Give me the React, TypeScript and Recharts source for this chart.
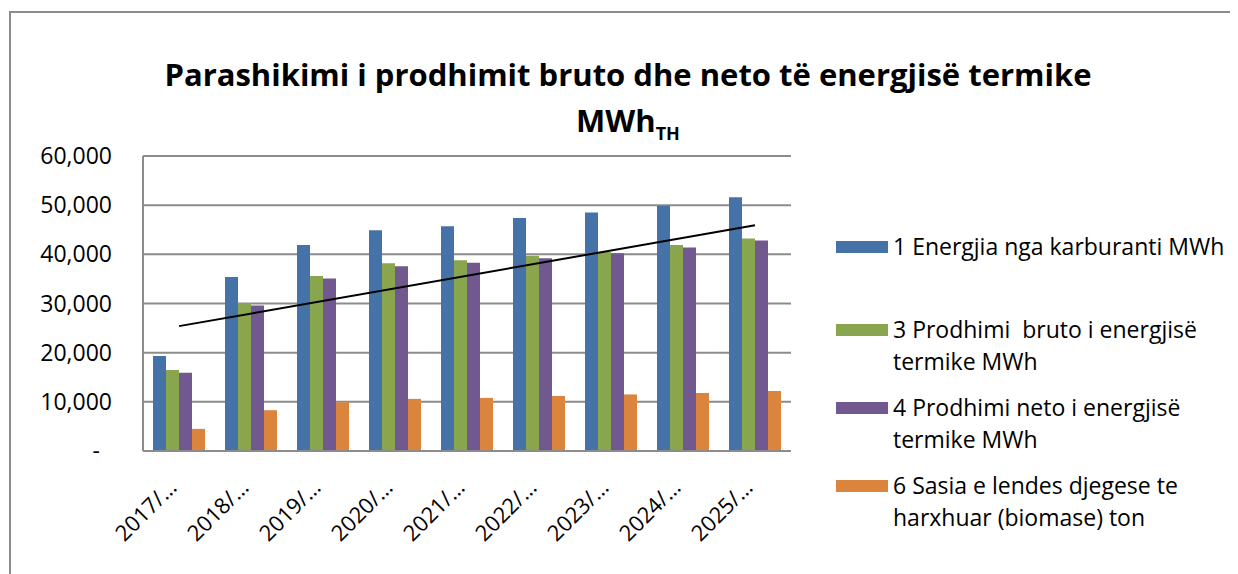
import React from 'react';
import { ComposedChart, Bar, Line, XAxis, YAxis, CartesianGrid } from 'recharts';

const years = ['2017/…', '2018/…', '2019/…', '2020/…', '2021/…', '2022/…', '2023/…', '2024/…', '2025/…'];
const energjia = [19300, 35400, 41900, 44900, 45700, 47400, 48500, 49900, 51600];
const bruto = [16500, 30100, 35600, 38200, 38800, 39700, 40500, 41900, 43200];
const neto = [15900, 29600, 35100, 37600, 38300, 39200, 40200, 41400, 42800];
const biomase = [4500, 8300, 9900, 10600, 10800, 11200, 11500, 11800, 12200];
// trendline (linear, on the bruto series) read at its two ends
const trend = [25400, null, null, null, null, null, null, null, 45900];

const seriesNames = [
  '1 Energjia nga karburanti MWh',
  '3 Prodhimi  bruto i energjisë termike MWh',
  '4 Prodhimi neto i energjisë termike MWh',
  '6 Sasia e lendes djegese te harxhuar (biomase) ton',
];
const legendLines = [
  ['1 Energjia nga karburanti MWh'],
  ['3 Prodhimi  bruto i energjisë', 'termike MWh'],
  ['4 Prodhimi neto i energjisë', 'termike MWh'],
  ['6 Sasia e lendes djegese te', 'harxhuar (biomase) ton'],
];
const colors = ['#4572A7', '#89A54E', '#71588F', '#DB843D'];
const yTicks = [0, 10000, 20000, 30000, 40000, 50000, 60000];

const data = years.map((year, i) => ({
  year,
  energjia: energjia[i],
  bruto: bruto[i],
  neto: neto[i],
  biomase: biomase[i],
  trend: trend[i],
}));

const FONT = '"Open Sans", sans-serif';
const GRID = '#8c8c8c';

const YTick = (props: any) => {
  const { x, y, payload } = props;
  const zero = payload.value === 0;
  return (
    <text x={zero ? x - 12 : x} y={y} dy={8} textAnchor="end" fontFamily={FONT} fontSize={23} fill="#000">
      {zero ? '-' : payload.value.toLocaleString('en-US')}
    </text>
  );
};

const XTick = (props: any) => {
  const { x, y, payload } = props;
  const tx = x - 1;
  const ty = y + 30;
  return (
    <text x={tx} y={ty} textAnchor="end" transform={`rotate(-45, ${tx}, ${ty})`} fontFamily={FONT} fontSize={22} fill="#000">
      {payload.value}
    </text>
  );
};

const LegendBox = () => {
  const centers = [247, 330, 408, 486];
  return (
    <svg width={420} height={574} style={{ position: 'absolute', left: 820, top: -8 }}>
      {legendLines.map((lines, i) => (
        <g key={seriesNames[i]}>
          <rect x={8} y={centers[i] - 6} width={52} height={12} fill={colors[i]} />
          {lines.map((ln, j) => (
            <text
              key={j}
              x={65}
              y={centers[i] + 8 + j * 32}
              fontFamily={FONT}
              fontSize={23}
              fill="#000"
              style={{ whiteSpace: 'pre' }}
            >
              {ln}
            </text>
          ))}
        </g>
      ))}
    </svg>
  );
};

export default function App() {
  return (
    <div style={{ position: 'relative', width: 1230, height: 566, overflow: 'hidden', background: '#fff' }}>
      <div
        style={{
          position: 'absolute',
          left: 1,
          top: 3,
          width: 1300,
          height: 700,
          borderLeft: `2px solid ${GRID}`,
          borderTop: `2px solid ${GRID}`,
        }}
      />
      <svg width={1230} height={140} style={{ position: 'absolute', left: 0, top: 0 }}>
        <text x={620} y={78} textAnchor="middle" fontFamily={FONT} fontWeight="bold" fontSize={31} fill="#000">
          Parashikimi i prodhimit bruto dhe neto të energjisë termike
        </text>
        <text x={620} y={124} textAnchor="middle" fontFamily={FONT} fontWeight="bold" fontSize={31} fill="#000">
          MWh
          <tspan fontSize={18} dy={8}>TH</tspan>
        </text>
      </svg>
      <ComposedChart
        width={1230}
        height={566}
        data={data}
        margin={{ top: 148, right: 447, bottom: 93, left: 0 }}
        barGap={0}
        style={{ position: 'absolute', left: 0, top: 0 }}
      >
        <CartesianGrid vertical={false} stroke={GRID} strokeWidth={2} />
        <XAxis
          dataKey="year"
          height={30}
          tick={<XTick />}
          tickLine={false}
          axisLine={{ stroke: GRID, strokeWidth: 2 }}
          interval={0}
        />
        <YAxis
          width={135}
          domain={[0, 60000]}
          ticks={yTicks}
          tick={<YTick />}
          tickLine={false}
          tickMargin={25}
          axisLine={{ stroke: GRID, strokeWidth: 2 }}
        />
        <Bar dataKey="energjia" name={seriesNames[0]} fill={colors[0]} barSize={13} isAnimationActive={false} />
        <Bar dataKey="bruto" name={seriesNames[1]} fill={colors[1]} barSize={13} isAnimationActive={false} />
        <Bar dataKey="neto" name={seriesNames[2]} fill={colors[2]} barSize={13} isAnimationActive={false} />
        <Bar dataKey="biomase" name={seriesNames[3]} fill={colors[3]} barSize={13} isAnimationActive={false} />
        <Line
          dataKey="trend"
          stroke="#000"
          strokeWidth={2}
          dot={false}
          connectNulls
          legendType="none"
          isAnimationActive={false}
        />
      </ComposedChart>
      <LegendBox />
    </div>
  );
}
